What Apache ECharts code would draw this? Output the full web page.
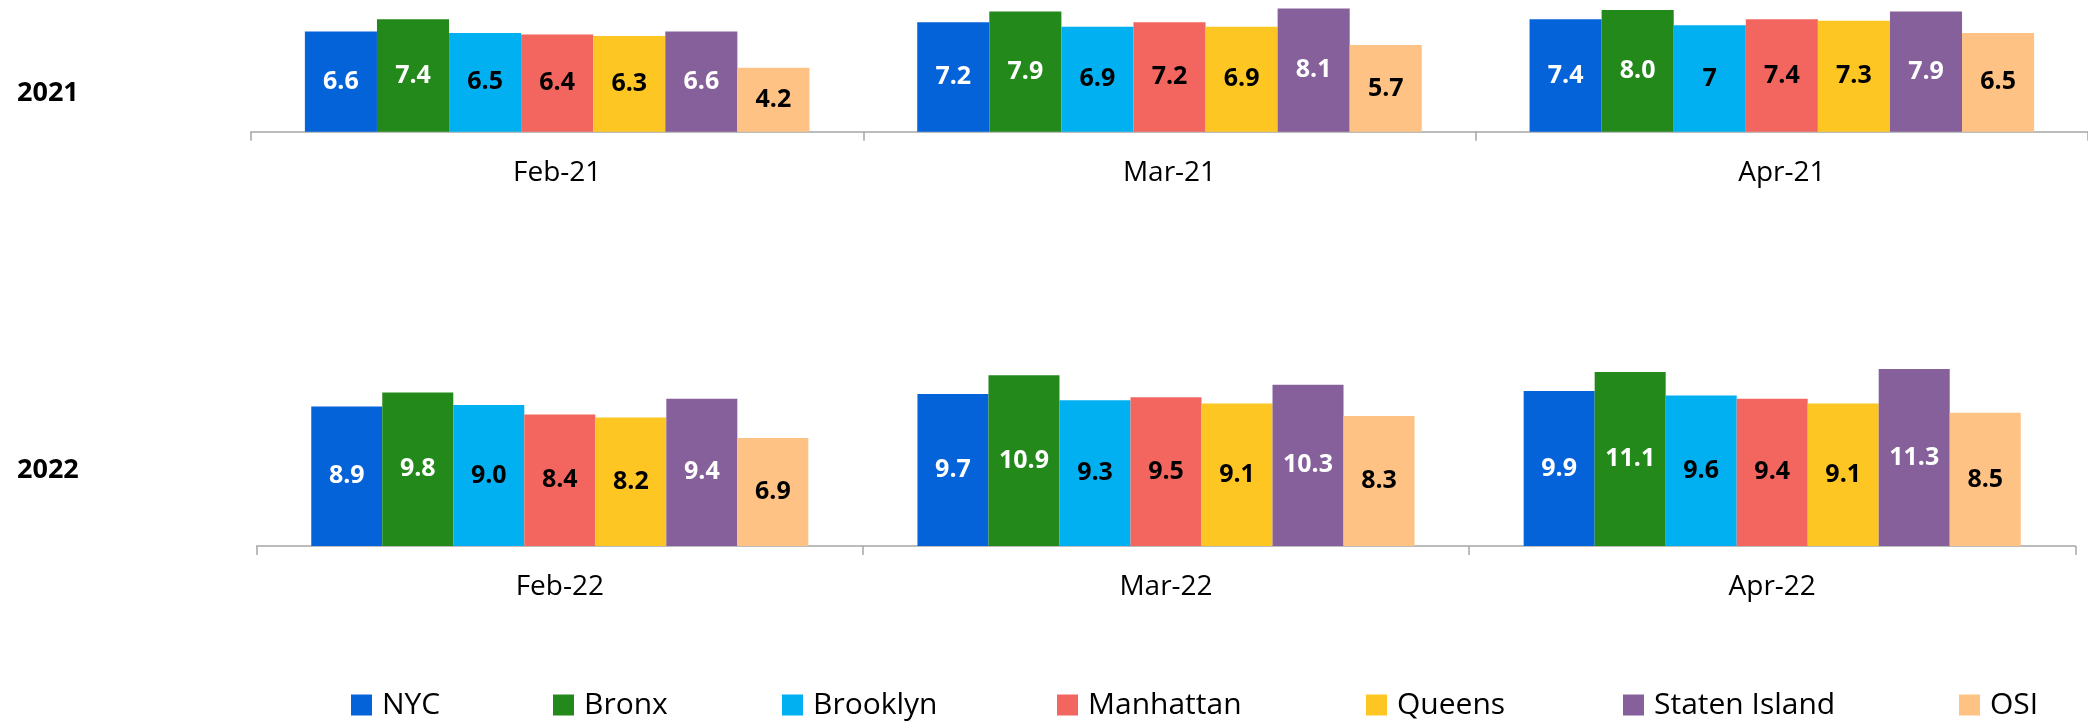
<!DOCTYPE html>
<html>
<head>
<meta charset="utf-8">
<style>
  html, body { margin:0; padding:0; background:#fff; }
  #chart { width:2088px; height:724px; }
</style>
<script src="https://cdn.jsdelivr.net/npm/echarts@6/dist/echarts.min.js"></script>
</head>
<body>
<div id="chart"></div>
<script>
/* Borough rates by month, two years stacked as two bar grids, one shared legend. */
(function(){
  var BOROUGHS = ['NYC','Bronx','Brooklyn','Manhattan','Queens','Staten Island','OSI'];
  var COLORS = ['#0563da','#23891a','#00b0f0','#f2665f','#fec623','#86609b','#fec384'];
  var LABEL_COLORS = ['#ffffff','#ffffff','#000000','#000000','#000000','#ffffff','#000000'];

  var MONTHS_2021 = ['Feb-21','Mar-21','Apr-21'];
  var MONTHS_2022 = ['Feb-22','Mar-22','Apr-22'];

  // one row per month, one value per borough (kept as text so "7" and "8.0" print as shown)
  var FEB_21 = ['6.6','7.4','6.5','6.4','6.3','6.6','4.2'];
  var MAR_21 = ['7.2','7.9','6.9','7.2','6.9','8.1','5.7'];
  var APR_21 = ['7.4','8.0','7','7.4','7.3','7.9','6.5'];
  var FEB_22 = ['8.9','9.8','9.0','8.4','8.2','9.4','6.9'];
  var MAR_22 = ['9.7','10.9','9.3','9.5','9.1','10.3','8.3'];
  var APR_22 = ['9.9','11.1','9.6','9.4','9.1','11.3','8.5'];

  var ROWS_2021 = [FEB_21, MAR_21, APR_21];
  var ROWS_2022 = [FEB_22, MAR_22, APR_22];

  // legend entries sit in uneven slots, like the source
  var LEGEND_X = [351, 553, 782, 1057, 1366, 1623, 1959];

  var FONT = '"Open Sans", "Noto Sans", sans-serif';
  var AXIS_GREY = '#a6a6a6';

  var chart = echarts.init(document.getElementById('chart'), null, {renderer:'canvas'});

  function xAxisFor(idx, months){
    return {
      type:'category', gridIndex:idx, data:months, boundaryGap:true,
      axisLine:{ show:true, lineStyle:{ color:AXIS_GREY, width:1.5 } },
      axisTick:{ show:true, interval:0, alignWithLabel:false, inside:false, length:9,
                 lineStyle:{ color:AXIS_GREY, width:1.5 } },
      axisLabel:{ fontFamily:FONT, fontSize:28, color:'#000', margin:27 }
    };
  }
  function yAxisFor(idx, max){
    return { type:'value', gridIndex:idx, min:0, max:max, show:false, splitLine:{ show:false } };
  }

  function seriesFor(idx, rows, gap){
    return BOROUGHS.map(function(name, i){
      return {
        type:'bar', name:name, xAxisIndex:idx, yAxisIndex:idx,
        barGap:0, barCategoryGap:gap,
        itemStyle:{ color:COLORS[i] },
        data: rows.map(function(r){ return Number(r[i]); }),
        label:{
          show:true, position:'inside',
          fontFamily:FONT, fontSize:25, fontWeight:'bold', color:LABEL_COLORS[i],
          formatter:function(p){ return rows[p.dataIndex][i]; }
        }
      };
    });
  }

  var legends = BOROUGHS.map(function(name, i){
    return {
      data:[name], left:LEGEND_X[i], top:690, padding:0,
      icon:'rect', itemWidth:21, itemHeight:21,
      textStyle:{ fontFamily:FONT, fontSize:30, color:'#000', padding:[0,0,0,5] }
    };
  });

  var option = {
    animation:false,
    backgroundColor:'#ffffff',
    grid:[
      { left:251, top:2.5, width:1842, height:129.2 },
      { left:256.7, top:358, width:1818.6, height:188 }
    ],
    xAxis:[ xAxisFor(0, MONTHS_2021), xAxisFor(1, MONTHS_2022) ],
    yAxis:[ yAxisFor(0, 8.5), yAxisFor(1, 12) ],
    legend:legends,
    graphic:[
      { type:'text', x:17, y:93, style:{ text:'2021', fontFamily:FONT, fontSize:27, fontWeight:'bold', fill:'#000', verticalAlign:'middle' } },
      { type:'text', x:17, y:470, style:{ text:'2022', fontFamily:FONT, fontSize:27, fontWeight:'bold', fill:'#000', verticalAlign:'middle' } }
    ],
    series: seriesFor(0, ROWS_2021, '17.6%').concat(seriesFor(1, ROWS_2022, '18%'))
  };

  chart.setOption(option);
  window.addEventListener('resize', function(){ chart.resize(); });
})();
</script>
</body>
</html>
